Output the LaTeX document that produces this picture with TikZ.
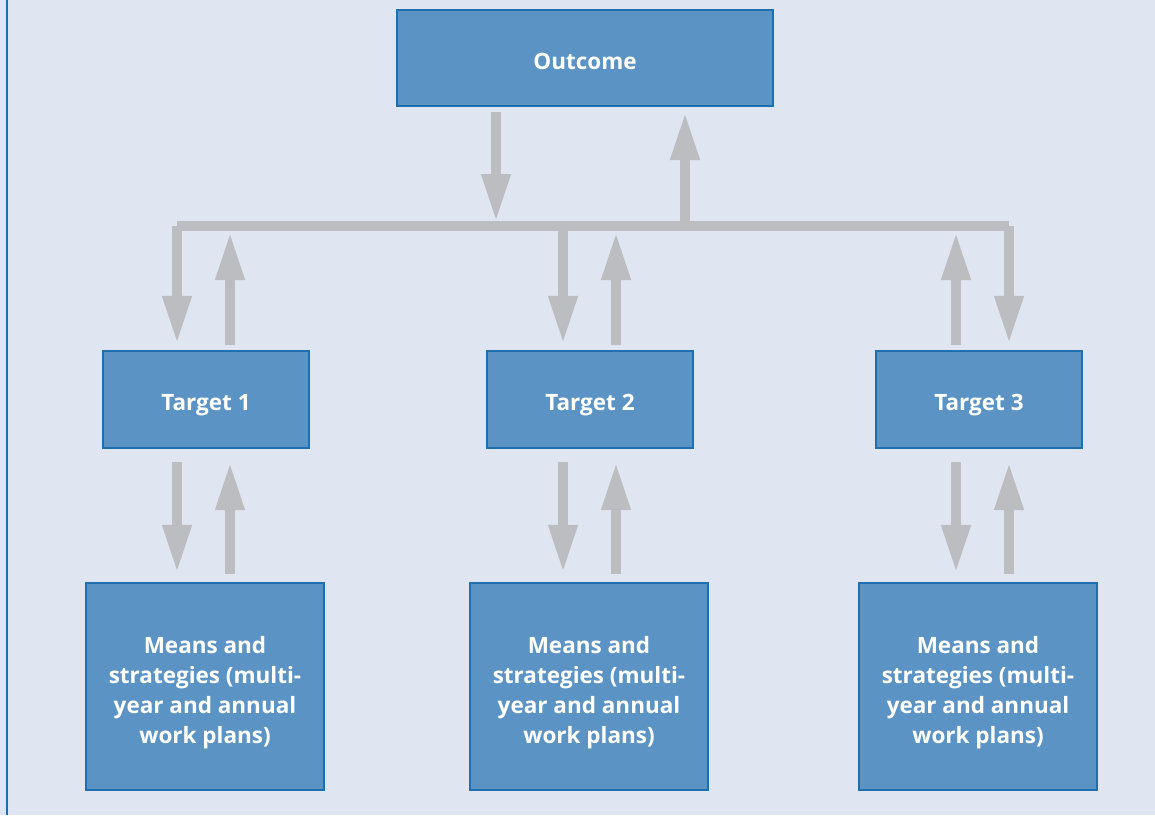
\documentclass[tikz,border=0pt]{standalone}
\usepackage{fontspec}
\setmainfont{Open Sans}
\usetikzlibrary{arrows.meta}

\definecolor{bgblue}{HTML}{DFE6F1}
\definecolor{boxblue}{HTML}{5B93C5}
\definecolor{edgeblue}{HTML}{1E6FB0}
\definecolor{flowgray}{HTML}{BCBDC0}

\def\px{0.02cm}

\tikzset{
  box/.style={draw=edgeblue, line width=1.2pt, fill=boxblue, text=white,
    font=\bfseries\fontsize{12.8}{17}\selectfont, align=center, inner sep=0pt},
  onebox/.style={box, text height=12.9pt, text depth=0pt},
  meansbox/.style={box, text height=67.5pt, text depth=3pt},
  flow/.style={draw=flowgray, line width=10*\px,
    -{Triangle[width=27*\px, length=48*\px]}},
  bar/.style={draw=flowgray, line width=10*\px, line cap=square}
}

\begin{document}
\begin{tikzpicture}[x=\px, y=-\px]
  \useasboundingbox (0,0) rectangle (1155,815);
  \fill[bgblue] (0,0) rectangle (1155,815);
  \draw[edgeblue, line width=2*\px] (6.5,0) -- (6.5,815);

  % boxes
  \node[onebox, minimum width=376*\px, minimum height=96*\px] (outcome) at (585,58) {Outcome};
  \node[onebox, minimum width=206*\px, minimum height=97*\px] (t1) at (206,399.5) {Target 1};
  \node[onebox, minimum width=206*\px, minimum height=97*\px] (t2) at (590,399.5) {Target 2};
  \node[onebox, minimum width=206*\px, minimum height=97*\px] (t3) at (979,399.5) {Target 3};
  \foreach \n/\x in {1/205, 2/589, 3/978}
    \node[meansbox, minimum width=238*\px, minimum height=207*\px] (m\n) at (\x,686.5)
      {Means and\\strategies (multi-\\year and annual\\work plans)};

  % bar and columns
  \coordinate (oD) at (496,226);
  \coordinate (oU) at (685,226);
  \foreach \c/\x in {1a/177, 1b/230, 2a/563, 2b/616, 3a/956, 3b/1009}
    \coordinate (col\c) at (\x,226);
  \draw[bar] (col1a) -- (col3b);

  % outcome <-> bar
  \draw[flow, shorten <=5*\px, shorten >=4*\px] (outcome.south -| oD) -- (oD);
  \draw[flow, shorten >=5*\px] (oU) -- (outcome.south -| oU);

  % bar <-> targets
  \draw[flow, shorten >=6*\px] (col1a) -- (t1.north -| col1a);
  \draw[flow, shorten <=5*\px, shorten >=6*\px] (t1.north -| col1b) -- (col1b);
  \draw[flow, shorten >=6*\px] (col2a) -- (t2.north -| col2a);
  \draw[flow, shorten <=5*\px, shorten >=6*\px] (t2.north -| col2b) -- (col2b);
  \draw[flow, shorten <=5*\px, shorten >=6*\px] (t3.north -| col3a) -- (col3a);
  \draw[flow, shorten >=6*\px] (col3b) -- (t3.north -| col3b);

  % targets <-> means
  \foreach \n/\d/\u in {1/col1a/col1b, 2/col2a/col2b, 3/col3a/col3b}{
    \draw[flow, shorten <=13*\px, shorten >=9*\px] (t\n.south -| \d) -- (m\n.north -| \d);
    \draw[flow, shorten <=8*\px, shorten >=13*\px] (m\n.north -| \u) -- (t\n.south -| \u);
  }
\end{tikzpicture}
\end{document}
